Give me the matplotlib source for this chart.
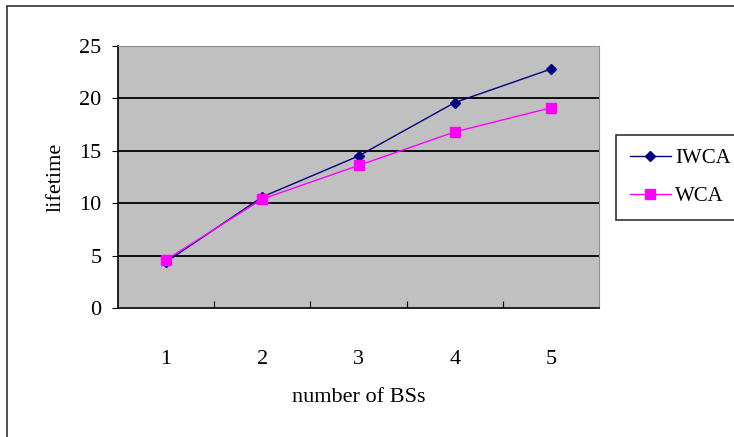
import numpy as np
import matplotlib.pyplot as plt
from matplotlib.patches import Rectangle

# number of base stations vs. network lifetime
bs_count = [1, 2, 3, 4, 5]
iwca = [4.4, 10.6, 14.5, 19.6, 22.8]
wca = [4.6, 10.4, 13.6, 16.8, 19.1]

plt.rcParams['font.family'] = ['Liberation Serif', 'DejaVu Serif']

W, H = 734, 437
fig = plt.figure(figsize=(W / 100, H / 100), dpi=100)
ax = fig.add_axes([118 / W, 1 - 308 / H, 481 / W, 262 / H])

# outer chart frame (runs off the right and bottom edges)
fig.patches.append(Rectangle((7 / W, -0.1), 1.2, 1 - 6 / H + 0.1,
                             transform=fig.transFigure, fill=False,
                             edgecolor='#303030', linewidth=1.2))

ax.set_facecolor('#c0c0c0')
ax.plot(bs_count, iwca, color='#000080', marker='D', markersize=5,
        linewidth=1.0, label='IWCA')
ax.plot(bs_count, wca, color='#ff00ff', marker='s', markersize=7,
        linewidth=1.0, label='WCA')

ax.set_xlim(0.5, 5.5)
ax.set_ylim(0, 25)
ax.set_yticks(np.arange(0, 26, 5))
for yv in [5, 10, 15, 20]:
    ax.axhline(yv, color='black', linewidth=1.3, zorder=1)

# category ticks sit between the groups, labels at the centres
ax.set_xticks(np.arange(1.5, 5.5, 1.0))
ax.set_xticks(bs_count, minor=True)
ax.set_xticklabels(['1', '2', '3', '4', '5'], minor=True)
ax.tick_params(axis='x', which='major', direction='in', length=5,
               labelbottom=False)
ax.tick_params(axis='x', which='minor', length=0, pad=30, labelsize=16)
ax.tick_params(axis='y', direction='out', length=4, labelsize=16, pad=8)

for side in ['top', 'right']:
    ax.spines[side].set_color('#909090')
for side in ['left', 'bottom']:
    ax.spines[side].set_color('black')
    ax.spines[side].set_linewidth(1.2)

ax.set_ylabel('lifetime', fontsize=16, labelpad=10)
ax.set_xlabel('number of BSs', fontsize=16, labelpad=14)

leg = fig.legend(loc='upper left', bbox_to_anchor=(616 / W, 1 - 135 / H),
                 borderaxespad=0, fontsize=15, frameon=True, fancybox=False,
                 edgecolor='black', handlelength=2.0, handletextpad=0.2,
                 borderpad=0.65, labelspacing=0.9)
leg.get_frame().set_linewidth(1.2)

fig.savefig('out.png', dpi=100)
